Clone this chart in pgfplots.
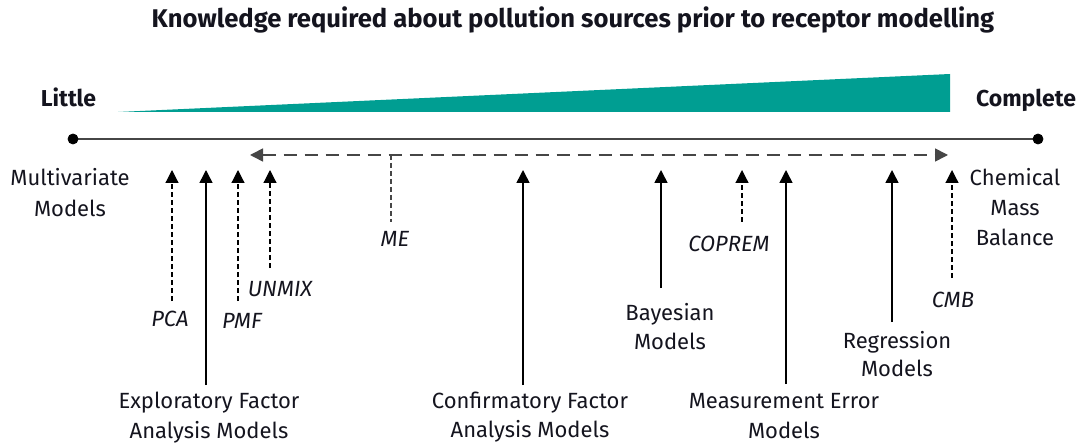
\documentclass[border=0pt]{standalone}
\usepackage{fontspec}
\setmainfont{Fira Sans}
\usepackage{pgfplots}
\pgfplotsset{compat=1.18}
\usetikzlibrary{arrows.meta}
\definecolor{teal1}{RGB}{0,158,146}
\definecolor{txt}{RGB}{20,20,30}
\definecolor{ln}{RGB}{70,70,70}
\newcommand{\bodyf}{\fontsize{11}{13}\selectfont}
\newcommand{\headf}{\fontsize{12.8}{14}\selectfont\bfseries}
\newcommand{\sidef}{\fontsize{11.5}{14}\selectfont\bfseries}
\tikzset{lab/.style={anchor=base, text=txt, inner sep=0pt, font=\bodyf},
 labi/.style={lab, font=\bodyf\itshape},
 labh/.style={lab, font=\headf},
 labe/.style={lab, font=\sidef}}
\begin{document}
\begin{tikzpicture}
\begin{axis}[
 scale only axis, width=540pt, height=221.5pt,
 xmin=0,xmax=1080,ymin=0,ymax=443, y dir=reverse,
 hide axis, clip=false,
]
\addplot[draw=none] coordinates {(0,0) (1080,443)};
% wedge
\addplot[fill=teal1, draw=none] coordinates {(118,112) (950,74) (950,112)} -- cycle;
% main line
\addplot[ln, line width=1pt] coordinates {(73,139) (1038,139)};
\addplot[only marks, mark=*, mark size=2.5pt, black] coordinates {(73,139) (1038,139)};
% ME double arrow
\addplot[ln, line width=0.8pt, dash pattern=on 6.5pt off 4pt, {Triangle[width=6.5pt,length=6.5pt]}-{Triangle[width=6.5pt,length=6.5pt]}] coordinates {(250,155) (948,155)};
\addplot[ln, line width=0.6pt, dash pattern=on 2.5pt off 1.5pt] coordinates {(391,155) (391,222)};
% dashed arrows
\pgfplotsset{dasharr/.style={black, line width=0.6pt, dash pattern=on 2.5pt off 1.5pt, -{Triangle[width=6.5pt,length=6.5pt]}},
 solarr/.style={black, line width=0.75pt, -{Triangle[width=6.5pt,length=6.5pt]}}}
\addplot[dasharr] coordinates {(172,301) (172,170)};
\addplot[dasharr] coordinates {(238,301) (238,170)};
\addplot[dasharr] coordinates {(270,268) (270,170)};
\addplot[dasharr] coordinates {(742,222) (742,170)};
\addplot[dasharr] coordinates {(952,278) (952,170)};
% solid arrows
\addplot[solarr] coordinates {(206,385) (206,170)};
\addplot[solarr] coordinates {(523,385) (523,170)};
\addplot[solarr] coordinates {(661,288) (661,170)};
\addplot[solarr] coordinates {(786,384) (786,170)};
\addplot[solarr] coordinates {(892,322) (892,170)};
% texts
\node[labh] at (axis cs:573,28) {Knowledge required about pollution sources prior to receptor modelling};
\node[labe] at (axis cs:68.5,107) {Little};
\node[labe] at (axis cs:1026,107) {Complete};
\node[lab] at (axis cs:70,186) {Multivariate};
\node[lab] at (axis cs:70,216.5) {Models};
\node[lab] at (axis cs:1015,185) {Chemical};
\node[lab] at (axis cs:1015,215) {Mass};
\node[lab] at (axis cs:1015,245) {Balance};
\node[labi] at (axis cs:395,247) {ME};
\node[labi] at (axis cs:729,251.5) {COPREM};
\node[labi] at (axis cs:170,326) {PCA};
\node[labi] at (axis cs:242,328) {PMF};
\node[labi] at (axis cs:280,296) {UNMIX};
\node[labi] at (axis cs:953,307) {CMB};
\node[lab] at (axis cs:209,408) {Exploratory Factor};
\node[lab] at (axis cs:209,438) {Analysis Models};
\node[lab] at (axis cs:530,408) {Confirmatory Factor};
\node[lab] at (axis cs:530,437) {Analysis Models};
\node[lab] at (axis cs:670,320) {Bayesian};
\node[lab] at (axis cs:670,349) {Models};
\node[lab] at (axis cs:897,348) {Regression};
\node[lab] at (axis cs:897,376) {Models};
\node[lab] at (axis cs:784,408) {Measurement Error};
\node[lab] at (axis cs:784,438) {Models};
\end{axis}
\end{tikzpicture}
\end{document}
